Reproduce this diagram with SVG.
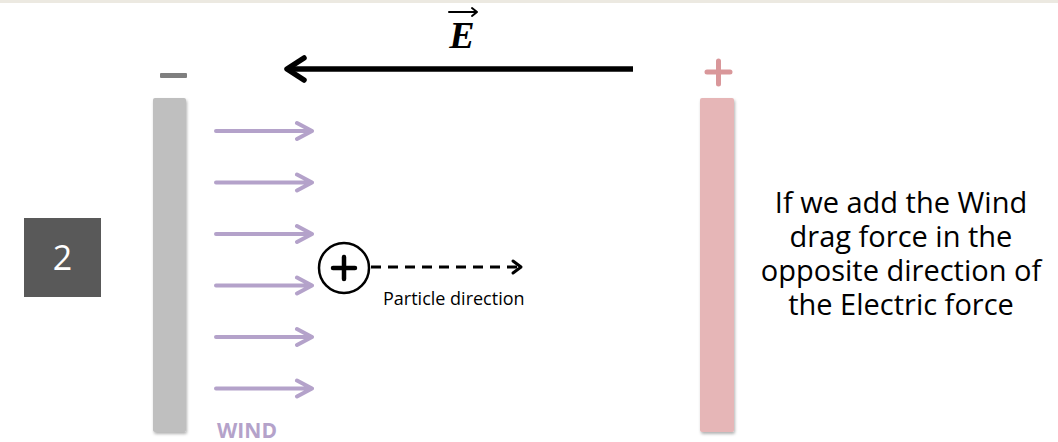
<svg xmlns="http://www.w3.org/2000/svg" width="1058" height="442" viewBox="0 0 1058 442">
  <style>
    .note { font-family: "Open Sans", "Liberation Sans", sans-serif; font-size: 29px; fill: #000; text-anchor: middle; }
    .small { font-family: "Open Sans", "Liberation Sans", sans-serif; font-size: 18px; fill: #000; }
    .wind { stroke: #B4A2CA; stroke-width: 4; fill: none; stroke-linecap: round; stroke-linejoin: round; }
  </style>
  <defs>
    <filter id="shade" x="-20%" y="-5%" width="150%" height="110%">
      <feDropShadow dx="1" dy="2" stdDeviation="1.5" flood-color="#000" flood-opacity="0.3"/>
    </filter>
  </defs>

  <rect width="1058" height="442" fill="#FFFFFF"/>
  <rect x="0" y="0" width="1058" height="3" fill="#ECE9E1"/>

  <!-- negative plate -->
  <g id="plate-negative">
    <rect x="160" y="73" width="27" height="5" rx="1" fill="#7F7F7F"/>
    <rect x="153" y="98" width="33" height="334" rx="2" fill="#BFBFBF" filter="url(#shade)"/>
  </g>

  <!-- positive plate -->
  <g id="plate-positive">
    <path d="M707,72 H730 M718.5,61 V84" stroke="#D9979A" stroke-width="5" stroke-linecap="round"/>
    <rect x="700" y="98" width="34" height="334" rx="2" fill="#E6B6B7" filter="url(#shade)"/>
  </g>

  <!-- field label -->
  <g id="field-label">
    <text x="462" y="48" font-family="Liberation Serif, serif" font-weight="bold" font-style="italic" font-size="38" text-anchor="middle">E</text>
    <path d="M449,12 H477 M472,8 L477,12 L472,16" fill="none" stroke="#000" stroke-width="2" stroke-linecap="round" stroke-linejoin="round"/>
  </g>

  <!-- step number -->
  <g id="step-box">
    <rect x="24" y="218" width="77" height="79" fill="#595959"/>
    <text x="62.5" y="270" font-family="Open Sans, Liberation Sans, sans-serif" font-size="34" fill="#FFFFFF" text-anchor="middle">2</text>
  </g>

  <!-- charged particle -->
  <g id="particle">
    <circle cx="344" cy="268" r="25" fill="#FFFFFF" stroke="#000" stroke-width="2.5"/>
    <path d="M333,268 H355 M344,257 V279" stroke="#000" stroke-width="4.5" stroke-linecap="round"/>
    <text class="small" x="383" y="305">Particle direction</text>
  </g>

  <!-- wind label -->
  <g id="wind-label">
    <text x="247" y="438" font-family="Open Sans, Liberation Sans, sans-serif" font-weight="bold" font-size="21" fill="#B4A2CA" text-anchor="middle">WIND</text>
  </g>

  <!-- explanation, one block of four lines -->
  <g id="note">
    <text class="note" x="901" y="213"><tspan x="901" y="213">If we add the Wind</tspan><tspan x="901" y="247">drag force in the</tspan><tspan x="901" y="281">opposite direction of</tspan><tspan x="901" y="315">the Electric force</tspan></text>
  </g>

  <!-- connectors -->
  <g id="connectors">
    <!-- electric field arrow -->
    <path d="M633,69 H287" stroke="#000" stroke-width="5.5" fill="none"/>
    <path d="M304,58 L287,69 L304,80" stroke="#000" stroke-width="5.5" fill="none" stroke-linecap="round" stroke-linejoin="round"/>
    <!-- wind arrows -->
    <g class="wind">
      <path d="M216,131 H312 M297,123 L312,131 L297,139"/>
      <path d="M216,182.5 H312 M297,174.5 L312,182.5 L297,190.5"/>
      <path d="M216,234 H312 M297,226 L312,234 L297,242"/>
      <path d="M216,285.5 H312 M297,277.5 L312,285.5 L297,293.5"/>
      <path d="M216,337 H312 M297,329 L312,337 L297,345"/>
      <path d="M216,388.5 H312 M297,380.5 L312,388.5 L297,396.5"/>
    </g>
    <!-- particle direction -->
    <path d="M371,267 H519" stroke="#000" stroke-width="3" stroke-dasharray="10,7" fill="none"/>
    <path d="M513,261 L521,267 L513,273" stroke="#000" stroke-width="3" fill="none" stroke-linecap="round" stroke-linejoin="round"/>
  </g>
</svg>
